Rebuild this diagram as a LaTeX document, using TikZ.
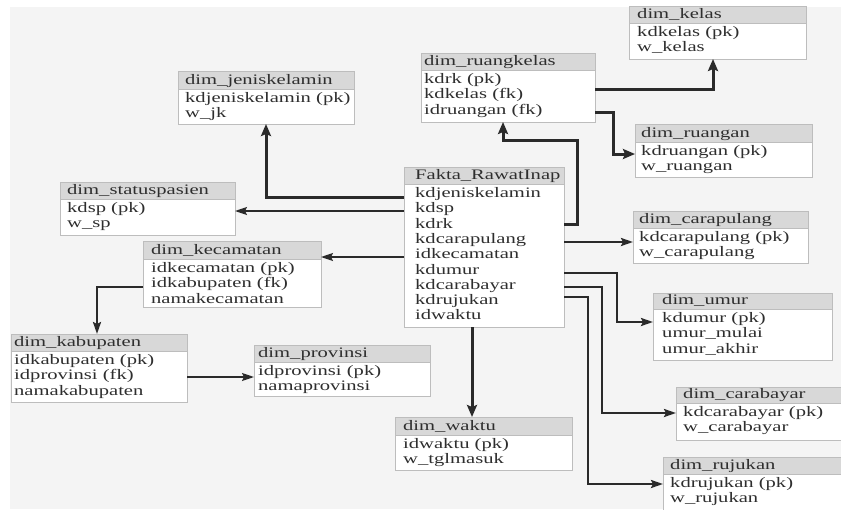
\documentclass[tikz,border=0pt]{standalone}
\usepackage{fontspec}
\setmainfont[FakeStretch=1.42]{Liberation Serif}
\usetikzlibrary{arrows.meta}

\definecolor{bgcol}{HTML}{F4F4F4}
\definecolor{headcol}{HTML}{D8D8D8}
\definecolor{bordercol}{HTML}{BDBDBD}
\definecolor{inkcol}{HTML}{2A2A2A}
\definecolor{txtcol}{HTML}{2E2E2E}

\tikzset{
  tblbody/.style={draw=bordercol, fill=white, line width=0.8pt, inner sep=0pt, outer sep=0pt},
  tblhead/.style={draw=bordercol, fill=headcol, line width=0.8pt, inner sep=0pt, outer sep=0pt},
  tbltext/.style={inner sep=0pt, text=txtcol, font=\fontsize{14.5}{15}\selectfont},
  link/.style={draw=inkcol, line width=1.7pt, -{Stealth[length=12pt,width=8pt,inset=2pt]}},
  midlink/.style={link, line width=2.3pt},
  boldlink/.style={link, line width=3pt, -{Stealth[length=12pt,width=10pt,inset=2pt]}},
}

% name, x1, y1, x2, header bottom, y2, text inset, title, rows
\newcommand\erdtable[9]{%
  \node[tblbody, anchor=north west, minimum width={(#4-#2)*1pt}, minimum height={(#6-#3)*1pt}] (#1) at (#2,#3) {};
  \node[tblhead, anchor=north west, minimum width={(#4-#2)*1pt}, minimum height={(#5-#3)*1pt}] (#1-h) at (#2,#3) {};
  \node[tbltext, anchor=base west] (#1-t) at (#2+#7,#5-4.5) {#8};
  \foreach \r [count=\i] in {#9} {%
    \node[tbltext, anchor=base west] (#1-r\i) at (#2+#7,#5+13.5+15.3*\i-15.3) {\r};
  }%
}

\begin{document}
\begin{tikzpicture}[x=1pt,y=-1pt]
\useasboundingbox (0,0) rectangle (841,509);
\fill[white] (0,0) rectangle (841,509);
\fill[bgcol] (10,7) rectangle (841,509);

\erdtable{kelas}{629}{6}{806}{23}{59}{8}{dim\_kelas}{kdkelas (pk),w\_kelas}
\erdtable{rk}{421}{53}{595}{70}{122}{3}{dim\_ruangkelas}{kdrk (pk),kdkelas (fk),idruangan (fk)}
\erdtable{ruangan}{635}{124}{812}{142}{177}{6}{dim\_ruangan}{kdruangan (pk),w\_ruangan}
\erdtable{jk}{178}{71}{354}{89}{124}{7}{dim\_jeniskelamin}{kdjeniskelamin (pk),w\_jk}
\erdtable{sp}{60}{182}{235}{199}{235}{7}{dim\_statuspasien}{kdsp (pk),w\_sp}
\erdtable{kec}{143}{241}{321}{259}{307}{8}{dim\_kecamatan}{idkecamatan (pk),idkabupaten (fk),namakecamatan}
\erdtable{fakta}{404}{167}{564}{184}{327}{11}{Fakta\_RawatInap}{kdjeniskelamin,kdsp,kdrk,kdcarapulang,idkecamatan,kdumur,kdcarabayar,kdrujukan,idwaktu}
\erdtable{cp}{633}{211}{808}{228}{263}{6}{dim\_carapulang}{kdcarapulang (pk),w\_carapulang}
\erdtable{umur}{653}{293}{832}{309}{360}{9}{dim\_umur}{kdumur (pk),umur\_mulai,umur\_akhir}
\erdtable{kab}{11}{334}{187}{351}{402}{3}{dim\_kabupaten}{idkabupaten (pk),idprovinsi (fk),namakabupaten}
\erdtable{prov}{254}{345}{430}{362}{396}{4}{dim\_provinsi}{idprovinsi (pk),namaprovinsi}
\erdtable{waktu}{395}{417}{572}{435}{470}{8}{dim\_waktu}{idwaktu (pk),w\_tglmasuk}
\erdtable{cb}{676}{387}{850}{403}{440}{7}{dim\_carabayar}{kdcarabayar (pk),w\_carabayar}
\erdtable{rj}{663}{457}{850}{474}{515}{7}{dim\_rujukan}{kdrujukan (pk),w\_rujukan}

% fact table to dimensions
\draw[boldlink] (fakta.west |- 0,197) -| (jk.south -| 266,0);
\draw[link] (fakta.west |- 0,211) -- (sp.east |- 0,211);
\draw[link] (fakta.west |- 0,257) -- (kec.east |- 0,257);
\draw[boldlink] (fakta.east |- 0,224) -| (577,140) -| (rk.south -| 503,0);
\draw[midlink] (fakta.east |- 0,242) -- (cp.west |- 0,242);
\draw[midlink] (fakta.east |- 0,273) -| (617,322) -- (umur.west |- 0,322);
\draw[midlink] (fakta.east |- 0,287) -| (602,413) -- (cb.west |- 0,413);
\draw[midlink] (fakta.east |- 0,297) -| (588,484) -- (rj.west |- 0,484);
\draw[boldlink] (fakta.south -| 472,0) -- (waktu.north -| 472,0);

% snowflake branches
\draw[boldlink] (rk.east |- 0,89) -| (kelas.south -| 713,0);
\draw[boldlink] (rk.east |- 0,112) -| (613,154) -- (ruangan.west |- 0,154);
\draw[midlink] (kec.west |- 0,287) -| (kab.north -| 97,0);
\draw[link] (kab.east |- 0,377) -- (prov.west |- 0,377);
\end{tikzpicture}
\end{document}
